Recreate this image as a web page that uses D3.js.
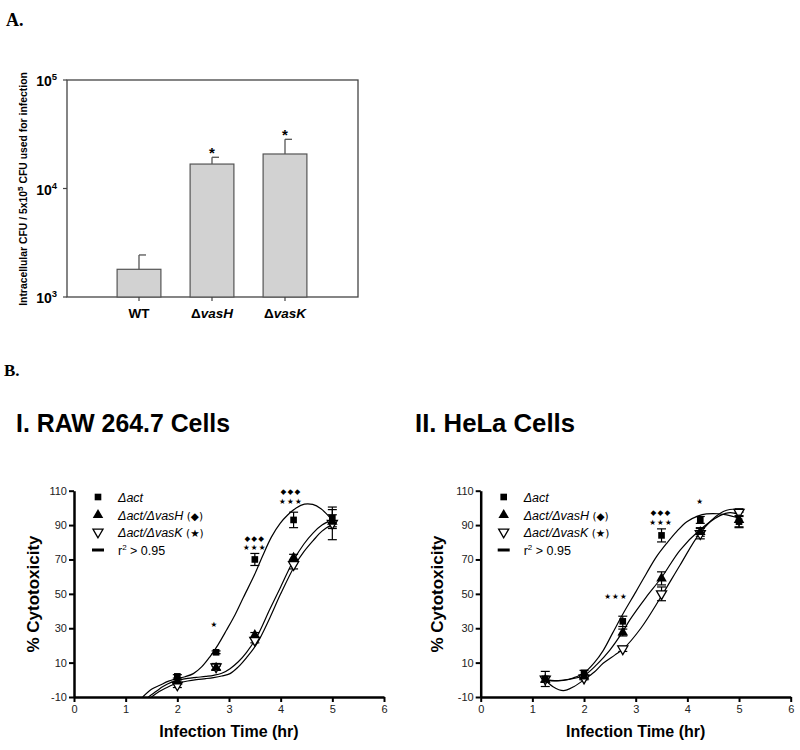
<!DOCTYPE html>
<html><head><meta charset="utf-8">
<script src="https://cdn.jsdelivr.net/npm/d3@7"></script>
<style>body{margin:0;background:#fff} svg{display:block;font-family:"Liberation Sans",Arial,sans-serif}</style>
</head><body><svg id="c" width="800" height="750"></svg>
<script>
// ---------- Panel A data ----------
const barCategories = ["WT", "ΔvasH", "ΔvasK"];
const barValues = [1800, 16800, 20800];
const barErrors = [640, 2600, 7600];
const barSignif = ["", "*", "*"];
const logTickValues = [1e3, 1e4, 1e5];
const logTickExps = ["3", "4", "5"];

// ---------- Panel B-I (RAW 264.7) data ----------
const rawTimes = [2, 2.75, 3.5, 4.25, 5];
const rawAct = [2, 16, 70, 93, 94];
const rawActErr = [1, 0.8, 3.5, 4.5, 5];
const rawVasH = [-1, 7, 26, 71, 92];
const rawVasHErr = [1, 1, 1.5, 2, 4];
const rawVasK = [-3, 7.5, 23, 67, 91];
const rawVasKErr = [1.5, 2, 1.5, 2.5, 9.5];
const rawFitAct = [[1.33,-10],[1.5,-5.5],[1.66,-3.2],[1.83,-0.8],[1.99,0.7],[2.15,1.8],[2.31,3.6],[2.47,7.5],[2.63,13.4],[2.79,20.5],[2.95,28.8],[3.12,38],[3.28,48],[3.5,61.5],[3.65,72],[3.82,83],[3.99,91],[4.14,96],[4.3,100],[4.46,102.2],[4.62,102],[4.78,99.5],[4.92,95.5],[5.0,92.5]];
const rawFitVasH = [[1.44,-10],[1.6,-6.5],[1.73,-3.8],[1.88,-1.5],[2.02,-0.3],[2.2,0.8],[2.37,1.4],[2.55,2],[2.7,2.6],[2.86,3.8],[3.02,6.5],[3.18,10.5],[3.34,16],[3.54,25],[3.79,41],[4.0,54],[4.24,69],[4.45,79],[4.63,85.5],[4.8,90],[5.0,93]];
const rawFitVasK = [[1.5,-10],[1.65,-6.8],[1.79,-4.6],[1.9,-3],[2.02,-1.9],[2.2,-0.7],[2.37,0.1],[2.55,0.7],[2.7,1.3],[2.86,2.2],[3.02,3.6],[3.18,7.5],[3.34,12.9],[3.54,21],[3.79,36],[4.0,50],[4.28,66.8],[4.45,74.5],[4.63,81],[4.8,86.5],[5.0,90.5]];
const rawAnnotT = [2.72, 3.5, 3.5, 4.2, 4.2];
const rawAnnotV = [32.5, 82.3, 77.1, 110, 104];
const rawAnnotText = ["★", "◆◆◆", "★★★", "◆◆◆", "★★★"];

// ---------- Panel B-II (HeLa) data ----------
const helaTimes = [1.25, 2, 2.75, 3.5, 4.25, 5];
const helaAct = [0.5, 4, 34, 84, 93, 92];
const helaActErr = [4.4, 1.5, 3, 3.8, 2, 3];
const helaVasH = [0, 2, 27.5, 59, 86, 93];
const helaVasHErr = [1.5, 1, 2, 3.8, 2.5, 4.5];
const helaVasK = [0.5, 1, 18, 50, 85, 97.5];
const helaVasKErr = [1.5, 1, 1.5, 4, 3, 2];
const helaFitAct = [[1.2,0.3],[1.4,-0.6],[1.6,-0.4],[1.8,1.2],[2.0,4],[2.2,10],[2.37,17],[2.55,27],[2.76,38.7],[3.0,51],[3.21,62],[3.4,71.5],[3.6,79.4],[3.8,86.5],[3.99,92],[4.2,95.2],[4.37,96.5],[4.6,96.6],[4.76,95.9],[5.0,94]];
const helaFitVasH = [[1.2,0.3],[1.5,-0.5],[1.8,0.8],[2.0,2.5],[2.25,9],[2.5,17.3],[2.75,28],[2.89,35],[3.2,48],[3.5,59.5],[3.86,75.5],[4.24,87.1],[4.63,95.5],[4.83,97.3],[5.0,96]];
const helaFitVasK = [[1.2,1.5],[1.4,-4],[1.6,-6.3],[1.8,-4],[2.0,0],[2.2,4.5],[2.37,9.6],[2.6,14.5],[2.76,18],[3.1,30],[3.49,48.3],[3.86,66.8],[4.24,85.2],[4.63,96.8],[4.89,99.2],[5.0,98]];
const helaAnnotT = [2.62, 3.49, 3.49, 4.25];
const helaAnnotV = [48.9, 97.8, 92, 104.2];
const helaAnnotText = ["★★★", "◆◆◆", "★★★", "★"];

const xTickValues = [0, 1, 2, 3, 4, 5, 6];
const yTickValues = [-10, 10, 30, 50, 70, 90, 110];
const legendLabels = [["Δact", ""], ["Δact/ΔvasH", " (◆)"], ["Δact/ΔvasK", " (★)"], ["", ""]];

const svg = d3.select("#c");

// ================= Panel A =================
svg.append("text").attr("x", 6).attr("y", 26)
  .style("font-family", "'Liberation Serif','Times New Roman',serif").style("font-weight", "bold").style("font-size", "18px").text("A.");

const boxL = 67, boxR = 358, boxT = 80, boxB = 297;
const yA = d3.scaleLog().domain([1e3, 1e5]).range([boxB, boxT]);
const xA = d3.scaleBand().domain(barCategories).range([102.5, 321.5]).paddingInner(0.4).paddingOuter(0.2);
const gA = svg.append("g");
gA.append("rect").attr("x", boxL).attr("y", boxT).attr("width", boxR - boxL).attr("height", boxB - boxT)
  .attr("fill", "none").attr("stroke", "#444").attr("stroke-width", 1.3);
gA.selectAll("rect.bar").data(barValues).enter().append("rect").attr("class", "bar")
  .attr("x", (d, i) => xA(barCategories[i])).attr("width", xA.bandwidth())
  .attr("y", d => yA(d)).attr("height", d => boxB - yA(d))
  .attr("fill", "#d2d2d2").attr("stroke", "#555").attr("stroke-width", 1.2);
barValues.forEach((v, i) => {
  const cx = xA(barCategories[i]) + xA.bandwidth() / 2;
  const top = yA(v + barErrors[i]);
  gA.append("line").attr("x1", cx).attr("x2", cx).attr("y1", yA(v)).attr("y2", top).attr("stroke", "#555").attr("stroke-width", 1.3);
  gA.append("line").attr("x1", cx).attr("x2", cx + 7).attr("y1", top).attr("y2", top).attr("stroke", "#555").attr("stroke-width", 1.3);
  if (barSignif[i]) gA.append("text").attr("x", cx).attr("y", top + 1).attr("text-anchor", "middle")
    .style("font-weight", "bold").style("font-size", "15px").text(barSignif[i]);
  gA.append("line").attr("x1", cx).attr("x2", cx).attr("y1", boxB).attr("y2", boxB + 4).attr("stroke", "#444").attr("stroke-width", 1.2);
  const t = gA.append("text").attr("x", cx).attr("y", 318).attr("text-anchor", "middle")
    .style("font-weight", "bold").style("font-size", "13.5px");
  if (barCategories[i].startsWith("Δ")) {
    t.append("tspan").text("Δ");
    t.append("tspan").style("font-style", "italic").text(barCategories[i].slice(1));
  } else t.text(barCategories[i]);
});
logTickValues.forEach((v, i) => {
  gA.append("line").attr("x1", boxL - 4).attr("x2", boxL).attr("y1", yA(v)).attr("y2", yA(v)).attr("stroke", "#444").attr("stroke-width", 1.2);
  const t = gA.append("text").attr("x", boxL - 10).attr("y", yA(v) + 6).attr("text-anchor", "end")
    .style("font-weight", "bold").style("font-size", "14px");
  t.append("tspan").text("10");
  t.append("tspan").attr("dy", -6).style("font-size", "9.5px").text(logTickExps[i]);
});
const yl = gA.append("text").attr("transform", "translate(27,189) rotate(-90)").attr("text-anchor", "middle")
  .style("font-weight", "bold").style("font-size", "10.4px");
yl.append("tspan").text("Intracellular CFU / 5x10");
yl.append("tspan").attr("dy", -4.5).style("font-size", "8px").text("5");
yl.append("tspan").attr("dy", 4.5).text(" CFU used for infection");

// ================= Panel B =================
svg.append("text").attr("x", 4).attr("y", 376)
  .style("font-family", "'Liberation Serif','Times New Roman',serif").style("font-weight", "bold").style("font-size", "17px").text("B.");

function drawPanel(opts) {
  const g = svg.append("g");
  const x = d3.scaleLinear().domain([0, 6]).range([opts.x0, opts.x0 + 310]);
  const y = d3.scaleLinear().domain([-10, 110]).range([697, 490.7]);
  g.append("text").attr("x", opts.titleX).attr("y", 432).attr("textLength", opts.titleW).attr("lengthAdjust", "spacingAndGlyphs")
    .style("font-weight", "bold").style("font-size", "26px").text(opts.title);
  const ax = g.append("g").attr("transform", "translate(0,697)")
    .call(d3.axisBottom(x).tickValues(xTickValues).tickFormat(d => String(d)).tickSize(5).tickSizeOuter(0).tickPadding(3));
  const ay = g.append("g").attr("transform", `translate(${opts.x0},0)`)
    .call(d3.axisLeft(y).tickValues(yTickValues).tickFormat(d => String(d)).tickSize(5).tickSizeOuter(0).tickPadding(2));
  [ax, ay].forEach(a => {
    a.select(".domain").attr("stroke", "#000").attr("stroke-width", 2.5);
    a.selectAll(".tick line").attr("stroke", "#000").attr("stroke-width", 2);
    a.selectAll(".tick text").attr("fill", "#222").style("font-size", "11px").style("font-family", "'Liberation Sans',Arial,sans-serif");
  });
  g.append("text").attr("x", opts.x0 + 155).attr("y", 737).attr("text-anchor", "middle")
    .style("font-weight", "bold").style("font-size", "16px").text("Infection Time (hr)");
  g.append("text").attr("transform", `translate(${opts.ylabX},594) rotate(-90)`).attr("text-anchor", "middle")
    .style("font-weight", "bold").style("font-size", "17px").text("% Cytotoxicity");

  const line = d3.line().x(d => x(d[0])).y(d => y(d[1])).curve(d3.curveCatmullRom.alpha(0.5));
  opts.fits.forEach(f => g.append("path").attr("d", line(f)).attr("fill", "none").attr("stroke", "#000").attr("stroke-width", 1.2));

  const series = [
    { vals: opts.act, err: opts.actErr, sym: "square" },
    { vals: opts.vasH, err: opts.vasHErr, sym: "tri" },
    { vals: opts.vasK, err: opts.vasKErr, sym: "vtri" }
  ];
  series.forEach(s => {
    s.vals.forEach((v, i) => {
      const cx = x(opts.times[i]);
      const e = s.err[i];
      if (e > 0) {
        g.append("line").attr("x1", cx).attr("x2", cx).attr("y1", y(v - e)).attr("y2", y(v + e)).attr("stroke", "#000").attr("stroke-width", 1.2);
        [v - e, v + e].forEach(w => g.append("line").attr("x1", cx - 4.5).attr("x2", cx + 4.5).attr("y1", y(w)).attr("y2", y(w)).attr("stroke", "#000").attr("stroke-width", 1.2));
      }
    });
  });
  function marker(sel, sym, cx, cy) {
    if (sym === "square") sel.append("path").attr("d", d3.symbol(d3.symbolSquare, 44)()).attr("transform", `translate(${cx},${cy})`).attr("fill", "#000");
    else if (sym === "tri") sel.append("path").attr("d", d3.symbol(d3.symbolTriangle, 48)()).attr("transform", `translate(${cx},${cy})`).attr("fill", "#000");
    else sel.append("path").attr("d", d3.symbol(d3.symbolTriangle, 44)()).attr("transform", `translate(${cx},${cy}) rotate(180)`).attr("fill", "#fff").attr("stroke", "#000").attr("stroke-width", 1.3);
  }
  [series[2], series[1], series[0]].forEach(s => s.vals.forEach((v, i) => marker(g, s.sym, x(opts.times[i]), y(v))));

  opts.annT.forEach((t, i) => {
    g.append("text").attr("x", x(t)).attr("y", y(opts.annV[i]) + 3).attr("text-anchor", "middle")
      .style("font-family", "'DejaVu Sans',sans-serif").style("font-size", "7.5px").attr("letter-spacing", "1.2px").text(opts.annText[i]);
  });

  const lgX = opts.x0 + opts.legMarkDx, txX = opts.x0 + opts.legTextDx;
  const lgY = [497, 515, 532, 550];
  ["square", "tri", "vtri"].forEach((s, i) => marker(g, s, lgX, lgY[i]));
  g.append("line").attr("x1", lgX - 6).attr("x2", lgX + 6).attr("y1", lgY[3]).attr("y2", lgY[3]).attr("stroke", "#000").attr("stroke-width", 3);
  legendLabels.forEach((lab, i) => {
    const t = g.append("text").attr("x", txX).attr("y", lgY[i] + 4.5).style("font-size", "12.5px");
    if (i < 3) {
      t.append("tspan").style("font-style", "italic").text(lab[0]);
      if (lab[1]) t.append("tspan").style("font-family", "'DejaVu Sans',sans-serif").style("font-size", "10.5px").text(lab[1]);
    } else {
      t.append("tspan").text("r");
      t.append("tspan").attr("dy", -5).style("font-size", "8px").text("2");
      t.append("tspan").attr("dy", 5).text(" > 0.95");
    }
  });
}

drawPanel({
  x0: 74, title: "I. RAW 264.7 Cells", titleX: 16, titleW: 214, ylabX: 39,
  legMarkDx: 24, legTextDx: 44,
  times: rawTimes, act: rawAct, actErr: rawActErr, vasH: rawVasH, vasHErr: rawVasHErr, vasK: rawVasK, vasKErr: rawVasKErr,
  fits: [rawFitAct, rawFitVasH, rawFitVasK],
  annT: rawAnnotT, annV: rawAnnotV, annText: rawAnnotText
});
drawPanel({
  x0: 480.7, title: "II. HeLa Cells", titleX: 415, titleW: 160, ylabX: 443,
  legMarkDx: 23, legTextDx: 43,
  times: helaTimes, act: helaAct, actErr: helaActErr, vasH: helaVasH, vasHErr: helaVasHErr, vasK: helaVasK, vasKErr: helaVasKErr,
  fits: [helaFitAct, helaFitVasH, helaFitVasK],
  annT: helaAnnotT, annV: helaAnnotV, annText: helaAnnotText
});
</script></body></html>
